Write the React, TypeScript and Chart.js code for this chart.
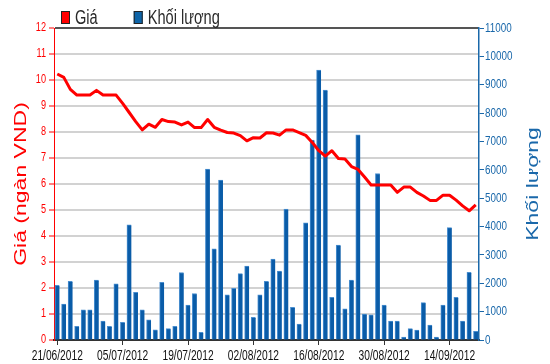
import React, { useEffect, useRef } from "react";
import { Chart, registerables } from "chart.js";

Chart.register(...registerables);

// Trading days (categories)
const dates: string[] = [
  "21/06/2012", "22/06/2012", "25/06/2012", "26/06/2012", "27/06/2012", "28/06/2012", "29/06/2012",
  "02/07/2012", "03/07/2012", "04/07/2012", "05/07/2012", "06/07/2012",
  "09/07/2012", "10/07/2012", "11/07/2012", "12/07/2012", "13/07/2012",
  "16/07/2012", "17/07/2012", "18/07/2012", "19/07/2012", "20/07/2012",
  "23/07/2012", "24/07/2012", "25/07/2012", "26/07/2012", "27/07/2012",
  "30/07/2012", "31/07/2012", "01/08/2012", "02/08/2012", "03/08/2012",
  "06/08/2012", "07/08/2012", "08/08/2012", "09/08/2012", "10/08/2012",
  "13/08/2012", "14/08/2012", "15/08/2012", "16/08/2012", "17/08/2012",
  "20/08/2012", "21/08/2012", "22/08/2012", "23/08/2012", "24/08/2012",
  "27/08/2012", "28/08/2012", "29/08/2012", "30/08/2012", "31/08/2012",
  "04/09/2012", "05/09/2012", "06/09/2012", "07/09/2012",
  "10/09/2012", "11/09/2012", "12/09/2012", "13/09/2012", "14/09/2012",
  "17/09/2012", "18/09/2012", "19/09/2012", "20/09/2012",
];

// Giá (ngàn VND)
const price: number[] = [
  10.23, 10.1, 9.64, 9.42, 9.42, 9.42, 9.6, 9.42, 9.42, 9.42,
  9.1, 8.75, 8.4, 8.08, 8.3, 8.18, 8.48, 8.4, 8.38, 8.27,
  8.38, 8.17, 8.17, 8.48, 8.18, 8.07, 7.98, 7.96, 7.86, 7.66,
  7.78, 7.77, 7.97, 7.96, 7.88, 8.08, 8.08, 7.98, 7.87, 7.6,
  7.28, 7.07, 7.28, 6.98, 6.96, 6.67, 6.56, 6.27, 5.96, 5.96,
  5.96, 5.96, 5.68, 5.88, 5.88, 5.68, 5.54, 5.37, 5.37, 5.57,
  5.57, 5.38, 5.16, 4.97, 5.2,
];

// Khối lượng
const volume: number[] = [
  1930, 1270, 2070, 480, 1060, 1060, 2110, 670, 480, 1980,
  620, 4060, 1680, 1060, 710, 360, 2030, 400, 480, 2380,
  1230, 1640, 270, 6030, 3210, 5640, 1590, 1820, 2340, 2610,
  800, 1590, 2070, 2850, 2430, 4620, 1150, 560, 4130, 7050,
  9520, 8810, 1500, 3350, 1100, 2110, 7230, 910, 890, 5870,
  1230, 670, 670, 100, 400, 350, 1320, 530, 100, 1230,
  3960, 1500, 670, 2390, 310,
];

const priceAxis = { min: 0, max: 12, step: 1 };
const volumeAxis = { min: 0, max: 11000, step: 1000 };
const labelEvery = 10;

const priceTitle = "Giá (ngàn VND)";
const volumeTitle = "Khối lượng";

const FONT = '"Liberation Sans", Arial, sans-serif';
const TEXT_SQUEEZE = 0.73; // the reference's lettering is horizontally condensed

const RED = "#ff0000";
const BAR_BLUE = "#0a5ca8";
const AXIS_BLUE = "#1a68aa";

export default function App() {
  const ref = useRef<HTMLCanvasElement | null>(null);

  useEffect(() => {
    if (!ref.current) return;

    // Draw all chart text horizontally condensed around its anchor point.
    const squeezePlugin = {
      id: "squeezeText",
      beforeInit(chart: any) {
        const ctx = chart.ctx;
        const orig = ctx.fillText;
        ctx.fillText = function (text: string, x: number, y: number, maxWidth?: number) {
          const m = ctx.getTransform();
          const p = m.transformPoint(new DOMPoint(x, y));
          ctx.save();
          const t = new DOMMatrix()
            .translate(p.x, p.y)
            .scale(TEXT_SQUEEZE, 1)
            .translate(-p.x, -p.y)
            .multiply(m);
          ctx.setTransform(t);
          if (maxWidth === undefined || maxWidth === null) orig.call(ctx, text, x, y);
          else orig.call(ctx, text, x, y, maxWidth);
          ctx.restore();
        };
      },
    };

    const legendPlugin = {
      id: "customLegend",
      afterDraw(chart: any) {
        const ctx = chart.ctx;
        ctx.save();
        ctx.font = `20px ${FONT}`;
        ctx.textBaseline = "alphabetic";
        ctx.textAlign = "left";
        let x = 61;
        const boxTop = 11;
        const baseline = 24;
        chart.data.datasets.forEach((ds: any) => {
          ctx.fillStyle = ds.legendColor;
          ctx.fillRect(x, boxTop, 9, 13);
          ctx.strokeStyle = "#222";
          ctx.lineWidth = 1;
          ctx.strokeRect(x + 0.5, boxTop + 0.5, 8, 12);
          ctx.fillStyle = "#2a2a2a";
          const tx = x + 14;
          ctx.fillText(ds.label, tx, baseline);
          x = tx + ctx.measureText(ds.label).width * TEXT_SQUEEZE + 36;
        });
        ctx.restore();
      },
    };

    const rightTitlePlugin = {
      id: "rightTitle",
      afterDraw(chart: any) {
        const ctx = chart.ctx;
        const area = chart.chartArea;
        const scale = chart.scales.y1;
        ctx.save();
        ctx.translate(scale.right - 12, (area.top + area.bottom) / 2);
        ctx.rotate(-Math.PI / 2);
        ctx.font = `23px ${FONT}`;
        ctx.fillStyle = AXIS_BLUE;
        ctx.textAlign = "center";
        ctx.textBaseline = "alphabetic";
        ctx.fillText(volumeTitle, 0, 0);
        ctx.restore();
      },
    };

    const chart = new Chart(ref.current, {
      type: "bar",
      data: {
        labels: dates,
        datasets: [
          {
            type: "line",
            label: "Giá",
            data: price,
            yAxisID: "y",
            borderColor: RED,
            backgroundColor: RED,
            borderWidth: 3,
            pointRadius: 0,
            tension: 0,
            borderJoinStyle: "round",
            order: 0,
            legendColor: RED,
          } as any,
          {
            type: "bar",
            label: "Khối lượng",
            data: volume,
            yAxisID: "y1",
            backgroundColor: BAR_BLUE,
            borderColor: "#4a8fd0",
            borderWidth: { left: 1, top: 1, right: 0, bottom: 0 },
            borderSkipped: false,
            barThickness: 4.5,
            order: 1,
            legendColor: "#0d64a8",
          } as any,
        ],
      },
      options: {
        responsive: false,
        animation: false,
        layout: { padding: { top: 28, left: 0, right: 0, bottom: 0 } },
        plugins: {
          legend: { display: false },
          tooltip: { enabled: false },
        },
        scales: {
          x: {
            type: "category",
            offset: true,
            grid: {
              offset: false,
              drawOnChartArea: false,
              drawTicks: true,
              tickLength: 5,
              tickWidth: 1,
              tickColor: (c: any) => (c.index % labelEvery === 0 ? "#333" : "rgba(0,0,0,0)"),
            },
            border: { color: "#333", width: 2 },
            ticks: {
              autoSkip: false,
              maxRotation: 0,
              minRotation: 0,
              padding: 3,
              color: "#111",
              font: { family: FONT, size: 14 },
              callback: (_v: any, i: number) => (i % labelEvery === 0 ? dates[i] : ""),
            },
            afterFit: (s: any) => {
              s.height = 24;
            },
          },
          y: {
            type: "linear",
            position: "left",
            min: priceAxis.min,
            max: priceAxis.max,
            ticks: {
              stepSize: priceAxis.step,
              color: RED,
              padding: 3,
              font: { family: FONT, size: 12.5 },
              callback: (v: any) => String(v),
            },
            grid: {
              color: (c: any) => (c.tick && c.tick.value === priceAxis.max ? "#555" : "#d2d2d2"),
              lineWidth: 2,
              tickColor: RED,
              tickLength: 5,
              tickWidth: 1,
            },
            border: { color: RED, width: 1 },
            title: {
              display: true,
              text: priceTitle,
              color: RED,
              font: { family: FONT, size: 23 },
              padding: { top: 8, bottom: 0 },
            },
            afterFit: (s: any) => {
              s.width = 54;
            },
          },
          y1: {
            type: "linear",
            position: "right",
            min: volumeAxis.min,
            max: volumeAxis.max,
            ticks: {
              stepSize: volumeAxis.step,
              color: AXIS_BLUE,
              padding: 1,
              font: { family: FONT, size: 13.5 },
              callback: (v: any) => String(v),
            },
            grid: {
              drawOnChartArea: false,
              tickColor: AXIS_BLUE,
              tickLength: 5,
              tickWidth: 1,
            },
            border: { color: AXIS_BLUE, width: 1.5 },
            afterFit: (s: any) => {
              s.width = 71;
            },
          },
        },
      } as any,
      plugins: [squeezePlugin, legendPlugin, rightTitlePlugin],
    });

    return () => chart.destroy();
  }, []);

  return (
    <div style={{ position: "fixed", left: 0, top: 0, width: 550, height: 364, background: "#fff" }}>
      <canvas ref={ref} width={550} height={364} style={{ display: "block" }} />
    </div>
  );
}
